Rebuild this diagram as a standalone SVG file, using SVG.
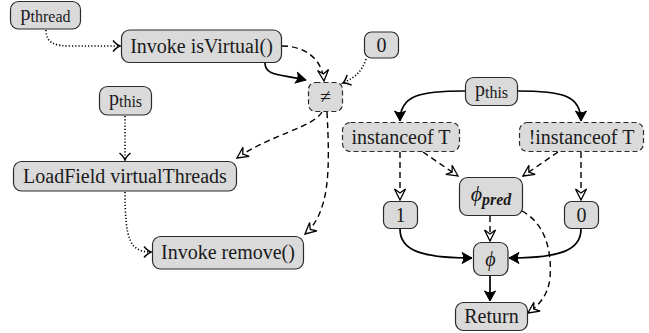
<svg xmlns="http://www.w3.org/2000/svg" width="649" height="333" viewBox="0 0 649 333">
<style>
.box{fill:#dadada;stroke:#2b2b2b;stroke-width:1.2}
.dbox{fill:#dadada;stroke:#2b2b2b;stroke-width:1.2;stroke-dasharray:5,3}
.t{font-family:"Liberation Serif","DejaVu Serif",serif;font-size:20px;fill:#1a1a1a;text-anchor:middle}
.sub{font-family:"Liberation Serif","DejaVu Serif",serif;font-size:16px}
.solid{fill:none;stroke:#000;stroke-width:1.7}
.dash{fill:none;stroke:#000;stroke-width:1.4;stroke-dasharray:6,4}
.dot{fill:none;stroke:#000;stroke-width:1.6;stroke-dasharray:1.2,2}
</style>
<defs>
<marker id="mS" markerUnits="userSpaceOnUse" viewBox="-12 -7 14 14" markerWidth="14" markerHeight="14" refX="0" refY="0" orient="auto">
<path d="M0,0 L-10,-5.5 Q-6.5,0 -10,5.5 Z" fill="#000" stroke="#000" stroke-width="1" stroke-linejoin="round"/>
</marker>
<marker id="mD" markerUnits="userSpaceOnUse" viewBox="-14 -8 16 16" markerWidth="16" markerHeight="16" refX="0" refY="0" orient="auto">
<path d="M0,0 L-11,-5.5 L-7,0 L-11,5.5 Z" fill="#fff" stroke="#000" stroke-width="1.3" stroke-linejoin="miter"/>
</marker>
<marker id="mO" markerUnits="userSpaceOnUse" viewBox="-10 -8 12 16" markerWidth="12" markerHeight="16" refX="0" refY="0" orient="auto">
<path d="M-7,-5.5 Q-3,-1 0,0 Q-3,1 -7,5.5" fill="none" stroke="#000" stroke-width="1.5"/>
</marker>
</defs>

<g id="connectors">
<path class="dot" d="M46,30 C46,44 56,46 72,46 L120,46" marker-end="url(#mO)"/>
<path class="solid" d="M265,63 C265,76 280,74 306,80" marker-end="url(#mS)"/>
<path class="dash" d="M282,46 C304,46 322,58 324,81" marker-end="url(#mD)"/>
<path class="dot" d="M366,59 C362,72 354,78 343,83" marker-end="url(#mO)"/>
<path class="dot" d="M125,116 L125,160" marker-end="url(#mO)"/>
<path class="dash" d="M322,112 C312,128 272,134 237,158" marker-end="url(#mD)"/>
<path class="dash" d="M327,112 C330,170 330,212 305,234" marker-end="url(#mD)"/>
<path class="dot" d="M125,192 C125,240 130,252 151,252" marker-end="url(#mO)"/>

<path class="solid" d="M465,91 C420,91 400,95 400,121" marker-end="url(#mS)"/>
<path class="solid" d="M517,91 C562,91 581,95 581,121" marker-end="url(#mS)"/>
<path class="dash" d="M400,152 L400,200" marker-end="url(#mD)"/>
<path class="dash" d="M423,152 L458,176" marker-end="url(#mD)"/>
<path class="dash" d="M558,152 L523,176" marker-end="url(#mD)"/>
<path class="dash" d="M581,152 L581,200" marker-end="url(#mD)"/>
<path class="dash" d="M490,216 L490,241" marker-end="url(#mD)"/>
<path class="dash" d="M522,211 C546,224 552,252 550,278 C548,296 538,306 528,313" marker-end="url(#mD)"/>
<path class="solid" d="M400,229 C400,250 420,258 472,258" marker-end="url(#mS)"/>
<path class="solid" d="M581,229 C581,250 561,258 509,258" marker-end="url(#mS)"/>
<path class="solid" d="M490,276 L490,301" marker-end="url(#mS)"/>
</g>

<g id="pthread"><rect class="box" x="10.5" y="1.5" width="70" height="27.5" rx="8"/>
<text class="t" x="45.5" y="20"><tspan>p</tspan><tspan class="sub" dy="1.5">thread</tspan></text></g>
<g id="isVirtual"><rect class="box" x="121.5" y="30" width="160" height="32.5" rx="8"/>
<text class="t" x="201.5" y="53">Invoke isVirtual()</text></g>
<g id="zeroTop"><rect class="box" x="364.5" y="32" width="34" height="26" rx="7"/>
<text class="t" x="381.5" y="52">0</text></g>
<g id="neq"><rect class="dbox" x="308.5" y="82.5" width="34" height="29" rx="7"/>
<text class="t" x="325.5" y="103">≠</text></g>
<g id="pthisLeft"><rect class="box" x="99.5" y="86.5" width="52" height="28.5" rx="8"/>
<text class="t" x="125.5" y="105"><tspan>p</tspan><tspan class="sub" dy="1.5">this</tspan></text></g>
<g id="loadField"><rect class="box" x="13.5" y="161.5" width="223" height="29.5" rx="8"/>
<text class="t" x="125" y="183">LoadField virtualThreads</text></g>
<g id="remove"><rect class="box" x="152.5" y="236.5" width="151" height="32.5" rx="8"/>
<text class="t" x="228" y="259">Invoke remove()</text></g>

<g id="pthisRight"><rect class="box" x="465.5" y="77.5" width="52" height="28" rx="8"/>
<text class="t" x="491.5" y="96"><tspan>p</tspan><tspan class="sub" dy="1.5">this</tspan></text></g>
<g id="instanceof"><rect class="dbox" x="342.5" y="122.5" width="117" height="29" rx="8"/>
<text class="t" x="401" y="144">instanceof T</text></g>
<g id="notInstanceof"><rect class="dbox" x="519.5" y="122.5" width="124" height="29" rx="8"/>
<text class="t" x="581.5" y="144">!instanceof T</text></g>
<g id="phiPred"><rect class="box" x="459.5" y="177.5" width="63" height="38" rx="8"/>
<text class="t" x="491" y="201"><tspan font-style="italic" font-size="22">ϕ</tspan><tspan class="sub" font-style="italic" font-weight="bold" dy="4">pred</tspan></text></g>
<g id="one"><rect class="box" x="383.5" y="201.5" width="34" height="27" rx="7"/>
<text class="t" x="400.5" y="222">1</text></g>
<g id="zeroRight"><rect class="box" x="564.5" y="201.5" width="34" height="27" rx="7"/>
<text class="t" x="581.5" y="222">0</text></g>
<g id="phi"><rect class="box" x="473.5" y="242.5" width="34.5" height="33" rx="8"/>
<text class="t" x="490.5" y="266" font-style="italic" font-size="22">ϕ</text></g>
<g id="return"><rect class="box" x="455.5" y="302.5" width="72" height="28" rx="8"/>
<text class="t" x="491.5" y="323">Return</text></g>
</svg>
